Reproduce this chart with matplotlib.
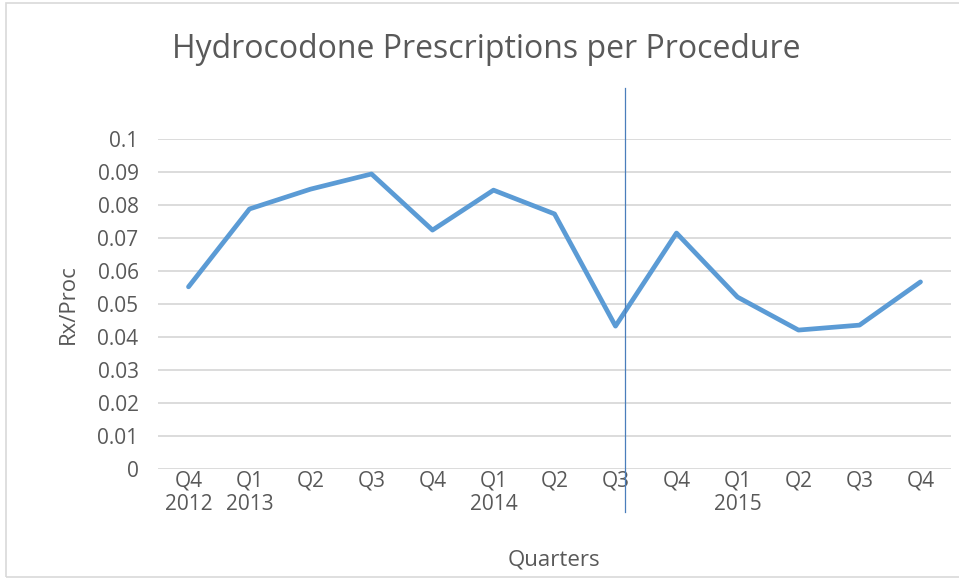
import matplotlib.pyplot as plt
from matplotlib.patches import Rectangle
from matplotlib.lines import Line2D
import matplotlib.transforms as mtransforms

quarters = ["Q4\n2012", "Q1\n2013", "Q2", "Q3", "Q4", "Q1\n2014", "Q2",
            "Q3", "Q4", "Q1\n2015", "Q2", "Q3", "Q4"]
rx_per_proc = [0.0552, 0.0788, 0.0848, 0.0894, 0.0724, 0.0845, 0.0773,
               0.0433, 0.0715, 0.0521, 0.0421, 0.0436, 0.0567]
marker_pos = 7.16  # vertical marker between Q3 and Q4 2014

plt.rcParams['font.family'] = ['Open Sans', 'DejaVu Sans']
text_color = '#595959'

fig = plt.figure(figsize=(9.59, 5.8), dpi=100)
ax = fig.add_axes([158 / 959, (580 - 469) / 580, (951 - 158) / 959, (469 - 139) / 580])

x = list(range(len(quarters)))
ax.plot(x, rx_per_proc, color='#5B9BD5', linewidth=3.4, solid_capstyle='round',
        solid_joinstyle='round', zorder=3)

ax.set_xlim(-0.5, len(quarters) - 0.5)
ax.set_ylim(0, 0.1)
ax.set_yticks([i / 100 for i in range(11)])
ax.set_yticklabels(['0'] + [f'{i / 100:g}' for i in range(1, 11)])
ax.set_xticks(x)
ax.set_xticklabels(quarters, linespacing=1.15)
ax.tick_params(axis='both', length=0, labelsize=15, colors=text_color)
ax.tick_params(axis='x', pad=1)
ax.tick_params(axis='y', pad=14)
ax.grid(axis='y', color='#D9D9D9', linewidth=1.3)
ax.set_axisbelow(True)
for s in ax.spines.values():
    s.set_visible(False)

fig.text(68 / 959, 1 - 304 / 580, 'Rx/Proc', rotation=90, ha='center', va='center',
         fontsize=16, color=text_color)
fig.text(554 / 959, 1 - 560 / 580, 'Quarters', ha='center', va='center',
         fontsize=16, color=text_color)
fig.text(486 / 959, 1 - 49 / 580, 'Hydrocodone Prescriptions per Procedure',
         ha='center', va='center', fontsize=23, color=text_color)

# vertical marker line reaching beyond the plot area
trans = mtransforms.blended_transform_factory(ax.transData, fig.transFigure)
fig.add_artist(Line2D([marker_pos, marker_pos], [1 - 88 / 580, 1 - 512 / 580],
                      transform=trans, color='#4A7EBB', linewidth=0.9))

# chart border
fig.add_artist(Rectangle((6 / 959, 3 / 580), 1.1, 574 / 580, transform=fig.transFigure,
                         fill=False, edgecolor='#D9D9D9', linewidth=1.2))

fig.savefig('out.png', dpi=100)
